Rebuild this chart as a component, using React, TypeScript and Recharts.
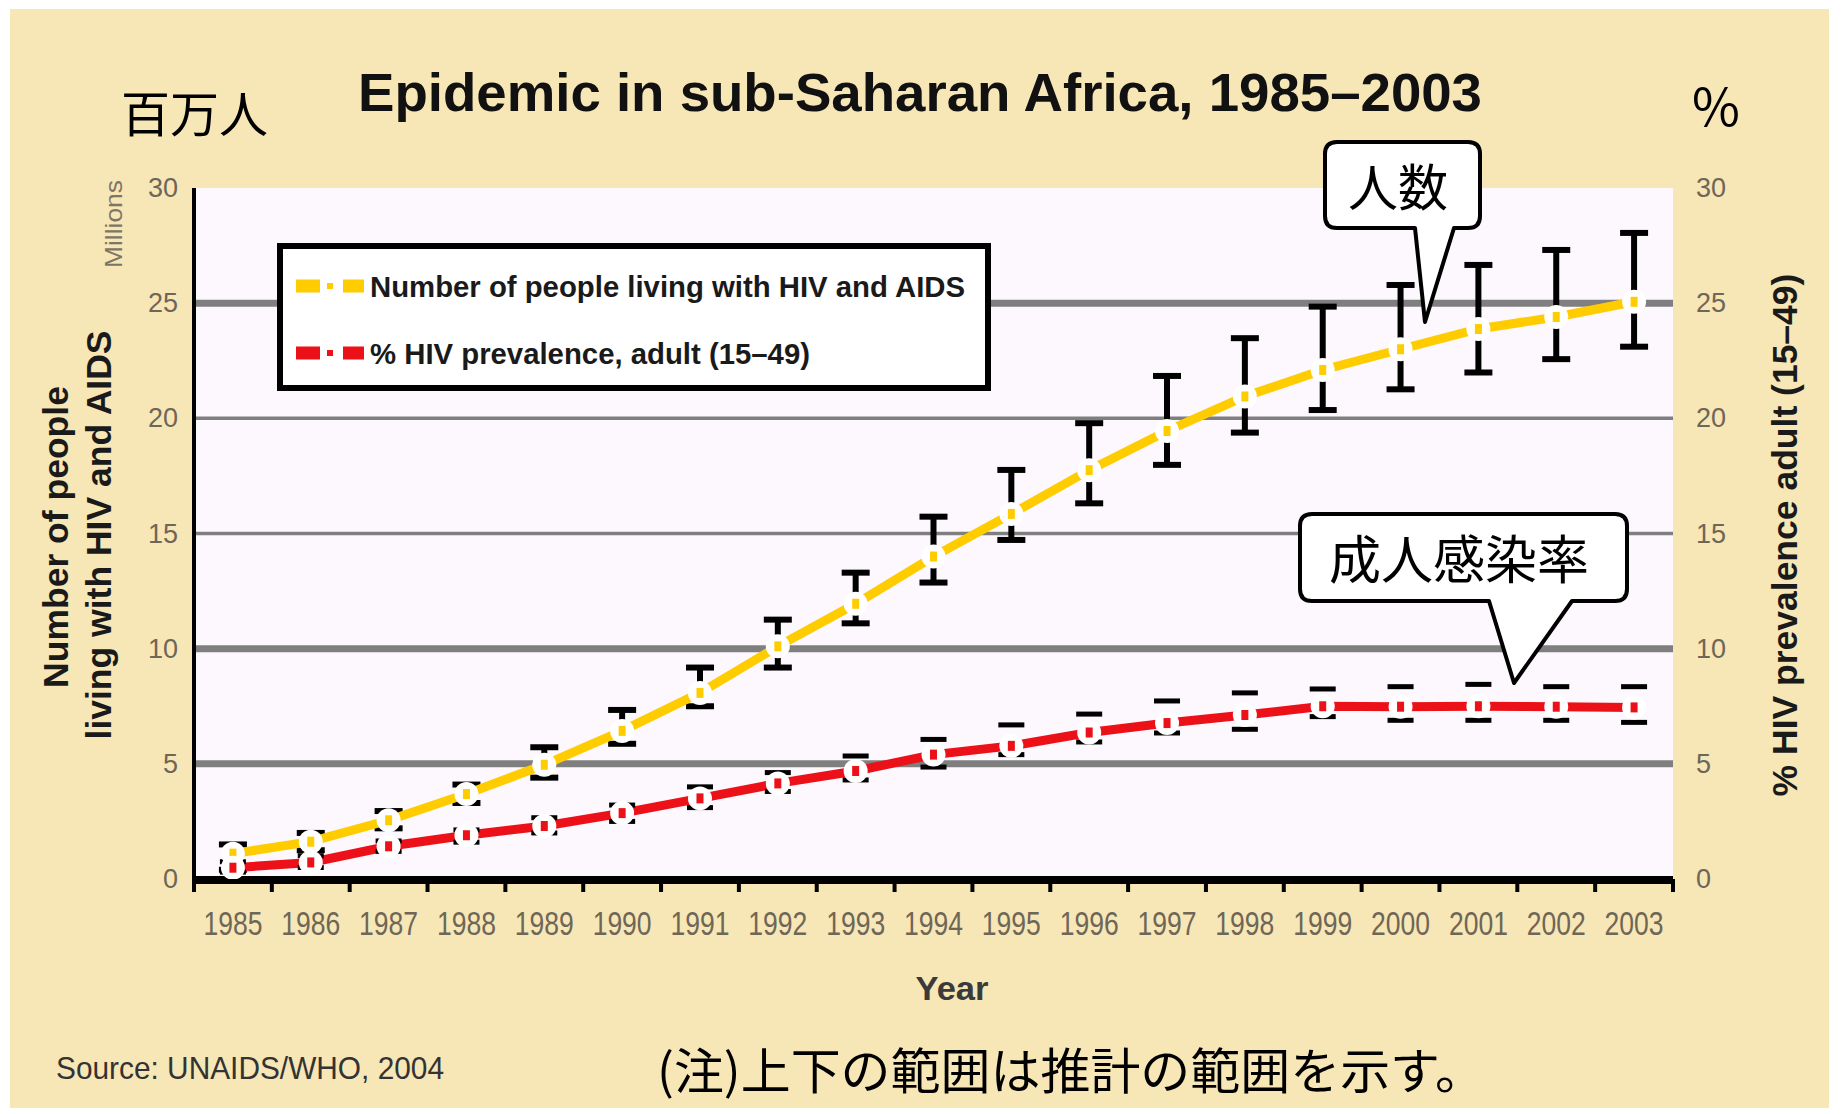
import React from 'react';
import { LineChart, Line, XAxis, YAxis, CartesianGrid, ErrorBar, Legend } from 'recharts';

// ---------- data ----------
const years = [1985, 1986, 1987, 1988, 1989, 1990, 1991, 1992, 1993, 1994, 1995, 1996, 1997, 1998, 1999, 2000, 2001, 2002, 2003];
const peopleMillions = [1.1, 1.62, 2.55, 3.69, 4.96, 6.43, 8.08, 10.1, 11.95, 14.0, 15.85, 17.75, 19.45, 20.95, 22.1, 23.0, 23.88, 24.4, 25.06];
const peopleLow = [0.4, 1.25, 2.2, 3.3, 4.4, 5.87, 7.5, 9.18, 11.1, 12.87, 14.72, 16.31, 17.98, 19.38, 20.36, 21.26, 21.99, 22.57, 23.11];
const peopleHigh = [1.5, 2.0, 2.95, 4.1, 5.72, 7.34, 9.18, 11.26, 13.3, 15.73, 17.76, 19.79, 21.84, 23.48, 24.85, 25.79, 26.66, 27.31, 28.05];
const prevalencePct = [0.49, 0.72, 1.42, 1.9, 2.3, 2.86, 3.5, 4.15, 4.69, 5.4, 5.78, 6.36, 6.77, 7.12, 7.5, 7.48, 7.5, 7.48, 7.45];
const prevalenceLow = [0.3, 0.5, 1.2, 1.6, 2.0, 2.5, 3.1, 3.8, 4.3, 4.86, 5.4, 5.95, 6.34, 6.5, 7.05, 6.89, 6.89, 6.89, 6.8];
const prevalenceHigh = [0.75, 1.01, 1.65, 2.13, 2.66, 3.21, 4.0, 4.62, 5.34, 6.06, 6.69, 7.16, 7.73, 8.08, 8.25, 8.35, 8.45, 8.35, 8.35];
const yTicks = [0, 5, 10, 15, 20, 25, 30];
const gridValues = [5, 10, 15, 20, 25];
const seriesNames = ['Number of people living with HIV and AIDS', '% HIV prevalence, adult (15–49)'];

const chartData = years.map((year, i) => ({
  year,
  people: peopleMillions[i],
  peopleErr: [peopleMillions[i] - peopleLow[i], peopleHigh[i] - peopleMillions[i]],
  prevalence: prevalencePct[i],
  prevLow: prevalenceLow[i],
  prevHigh: prevalenceHigh[i],
}));
const yearBoundaries = years.map((y) => y - 0.5).concat([years[years.length - 1] + 0.5]);

// ---------- styles ----------
const BEIGE = '#F7E6B6';
const PLOT_BG = '#FDF8FD';
const GRID = '#7F7F7F';
const YELLOW = '#FFCC00';
const RED = '#EC1118';
const TICK = '#6E6656';
const FONT = '"Liberation Sans", Arial, Helvetica, sans-serif';
const CJK = '"Noto Sans CJK JP", "Noto Sans CJK SC", sans-serif';
const gridWidths = [7, 7, 3.5, 3.5, 7];
const legendTextLengths = [595, 440];

const LeftTick = (props: any) => (
  <text x={props.x} y={props.y} textAnchor="end" dominantBaseline="central" fontSize={27} fontFamily={FONT} fill={TICK}>
    {props.payload.value}
  </text>
);
const RightTick = (props: any) => (
  <text x={props.x} y={props.y} textAnchor="start" dominantBaseline="central" fontSize={27} fontFamily={FONT} fill={TICK}>
    {props.payload.value}
  </text>
);
const YearTick = (props: any) => (
  <text x={props.x} y={props.y + 43} textAnchor="middle" dominantBaseline="central" fontSize={34} fontFamily={FONT} fill={TICK}
    textLength={59} lengthAdjust="spacingAndGlyphs">
    {props.payload.value}
  </text>
);
const EmptyTick = () => <g />;

const makePointDot = (color: string, tag: string) => (props: any) => {
  const { cx, cy, index } = props;
  if (cx == null || cy == null) return <g key={`${tag}-${index}`} />;
  return (
    <g key={`${tag}-${index}`}>
      <circle cx={cx} cy={cy} r={12} fill="#FFFFFF" />
      <rect x={cx - 3.5} y={cy - 5} width={7} height={10} fill={color} />
    </g>
  );
};
const makeCapDot = (tag: string) => (props: any) => {
  const { cx, cy, index } = props;
  if (cx == null || cy == null) return <g key={`${tag}-${index}`} />;
  return <rect key={`${tag}-${index}`} x={cx - 13} y={cy - 2.5} width={26} height={5} fill="#000" />;
};

const renderGridLine = (p: any) => (
  <line key={p.key} x1={p.x1} x2={p.x2} y1={p.y1} y2={p.y2} stroke={GRID} strokeWidth={gridWidths[p.index] ?? 4} />
);

const renderLegend = (props: any) => {
  const items = (props.payload || [])
    .filter((p: any) => p.type !== 'none' && seriesNames.includes(p.value))
    .sort((a: any, b: any) => seriesNames.indexOf(a.value) - seriesNames.indexOf(b.value));
  return (
    <svg width={730} height={160} style={{ display: 'block' }}>
      <rect x={10} y={10} width={708} height={142} fill="#FFFFFF" stroke="#000" strokeWidth={6} />
      {items.map((it: any, i: number) => {
        const cy = 50 + i * 67;
        const k = seriesNames.indexOf(it.value);
        return (
          <g key={`lg-${i}`}>
            <rect x={26} y={cy - 6.5} width={24} height={13} fill={it.color} />
            <rect x={57} y={cy - 3} width={6} height={6} fill={it.color} />
            <rect x={73} y={cy - 6.5} width={21} height={13} fill={it.color} />
            <text x={100} y={cy + 11} fontSize={30} fontWeight="bold" fontFamily={FONT} fill="#1a1a1a"
              textLength={legendTextLengths[k]} lengthAdjust="spacingAndGlyphs">
              {it.value}
            </text>
          </g>
        );
      })}
    </svg>
  );
};

const rot = (x: number, y: number) => `rotate(-90, ${x}, ${y})`;

export default function App() {
  return (
    <div style={{ position: 'absolute', left: 0, top: 0, width: 1841, height: 1114, background: '#FFFFFF', overflow: 'hidden' }}>
      <svg width={1841} height={1114} style={{ position: 'absolute', left: 0, top: 0 }}>
        <rect x={10} y={9} width={1819} height={1099} fill={BEIGE} />
      </svg>
      <div style={{ position: 'absolute', left: 0, top: 0 }}>
        <LineChart width={1841} height={1114} data={chartData} margin={{ top: 188, right: 100, left: 114, bottom: 174 }}>
          <CartesianGrid xAxisId="main" yAxisId="left" vertical={false} fill={PLOT_BG} fillOpacity={1}
            horizontalValues={gridValues} horizontal={renderGridLine} />
          <XAxis xAxisId="main" type="number" dataKey="year" domain={[1984.5, 2003.5]} ticks={years} interval={0}
            tickLine={false} tickSize={0} tickMargin={0} axisLine={{ stroke: '#000', strokeWidth: 8 }} tick={YearTick} height={60} allowDataOverflow />
          <XAxis xAxisId="aTicks" type="number" dataKey="year" domain={[1984.5, 2003.5]} ticks={yearBoundaries} interval={0}
            tick={EmptyTick} axisLine={false} tickLine={{ stroke: '#000', strokeWidth: 4 }} tickSize={13} height={1} allowDataOverflow />
          <YAxis yAxisId="left" domain={[0, 30]} ticks={yTicks} interval={0} width={80} tickLine={false} tickSize={0} tickMargin={16}
            axisLine={{ stroke: '#000', strokeWidth: 4 }} tick={LeftTick} allowDataOverflow />
          <YAxis yAxisId="right" orientation="right" domain={[0, 30]} ticks={yTicks} interval={0} width={68} tickLine={false} tickSize={0}
            tickMargin={23} axisLine={false} tick={RightTick} allowDataOverflow />
          <Legend layout="horizontal" verticalAlign="middle" align="center" content={renderLegend}
            wrapperStyle={{ position: 'absolute', left: 270, top: 236, width: 730, height: 160 }} />

          <Line xAxisId="main" yAxisId="left" dataKey="people" stroke="none" dot={false} activeDot={false} legendType="none" isAnimationActive={false}>
            <ErrorBar dataKey="peopleErr" width={14} strokeWidth={6} stroke="#000" direction="y" />
          </Line>
          <Line xAxisId="main" yAxisId="right" dataKey="prevHigh" stroke="none" dot={makeCapDot('ph')} activeDot={false} legendType="none" isAnimationActive={false} />
          <Line xAxisId="main" yAxisId="right" dataKey="prevLow" stroke="none" dot={makeCapDot('pl')} activeDot={false} legendType="none" isAnimationActive={false} />
          <Line xAxisId="main" yAxisId="left" dataKey="people" name={seriesNames[0]} stroke={YELLOW} strokeWidth={9}
            dot={makePointDot(YELLOW, 'yd')} activeDot={false} isAnimationActive={false} />
          <Line xAxisId="main" yAxisId="right" dataKey="prevalence" name={seriesNames[1]} stroke={RED} strokeWidth={9}
            dot={makePointDot(RED, 'rd')} activeDot={false} isAnimationActive={false} />
        </LineChart>
      </div>
      <svg width={1841} height={1114} style={{ position: 'absolute', left: 0, top: 0, pointerEvents: 'none' }}>
        <text x={920} y={111} textAnchor="middle" fontSize={54} fontWeight="bold" fontFamily={FONT} fill="#111"
          textLength={1124} lengthAdjust="spacingAndGlyphs">Epidemic in sub-Saharan Africa, 1985–2003</text>
        <text x={194.5} y={110} textAnchor="middle" dominantBaseline="central" fontSize={49} fontFamily={CJK} fill="#000">百万人</text>
        <text x={1716} y={103} textAnchor="middle" dominantBaseline="central" fontSize={52} fontFamily={CJK} fill="#000">%</text>

        <text x={113} y={224} transform={rot(113, 224)} textAnchor="middle" dominantBaseline="central" fontSize={24} fontFamily={FONT}
          fill="#7d7565" textLength={88} lengthAdjust="spacingAndGlyphs">Millions</text>
        <text x={56} y={537} transform={rot(56, 537)} textAnchor="middle" dominantBaseline="central" fontSize={35.5} fontWeight="bold"
          fontFamily={FONT} fill="#1a1a1a">Number of people</text>
        <text x={99} y={535} transform={rot(99, 535)} textAnchor="middle" dominantBaseline="central" fontSize={35.5} fontWeight="bold"
          fontFamily={FONT} fill="#1a1a1a">living with HIV and AIDS</text>
        <text x={1785} y={535} transform={rot(1785, 535)} textAnchor="middle" dominantBaseline="central" fontSize={35.5} fontWeight="bold"
          fontFamily={FONT} fill="#1a1a1a">% HIV prevalence adult (15–49)</text>

        <text x={952} y={988} textAnchor="middle" dominantBaseline="central" fontSize={34} fontWeight="bold" fontFamily={FONT}
          fill="#3a3a3a" textLength={73} lengthAdjust="spacingAndGlyphs">Year</text>
        <text x={56} y={1079} fontSize={32} fontFamily={FONT} fill="#333" textLength={388} lengthAdjust="spacingAndGlyphs">Source: UNAIDS/WHO, 2004</text>
        <text x={657} y={1067} dominantBaseline="central" fontSize={49} fontFamily={CJK} fill="#000" textLength={828}
          lengthAdjust="spacingAndGlyphs">(注)上下の範囲は推計の範囲を示す。</text>

        <path d="M 1337 142 H 1468 Q 1480 142 1480 154 V 216 Q 1480 228 1468 228 H 1454 L 1425 322 L 1415 228 H 1337 Q 1325 228 1325 216 V 154 Q 1325 142 1337 142 Z"
          fill="#FFFFFF" stroke="#000" strokeWidth={4} strokeLinejoin="round" />
        <text x={1398} y={184} textAnchor="middle" dominantBaseline="central" fontSize={50} fontFamily={CJK} fill="#000">人数</text>

        <path d="M 1312 514 H 1615 Q 1627 514 1627 526 V 589 Q 1627 601 1615 601 H 1572 L 1514 683 L 1489 601 H 1312 Q 1300 601 1300 589 V 526 Q 1300 514 1312 514 Z"
          fill="#FFFFFF" stroke="#000" strokeWidth={4} strokeLinejoin="round" />
        <text x={1459} y={556} textAnchor="middle" dominantBaseline="central" fontSize={52} fontFamily={CJK} fill="#000">成人感染率</text>
      </svg>
    </div>
  );
}
